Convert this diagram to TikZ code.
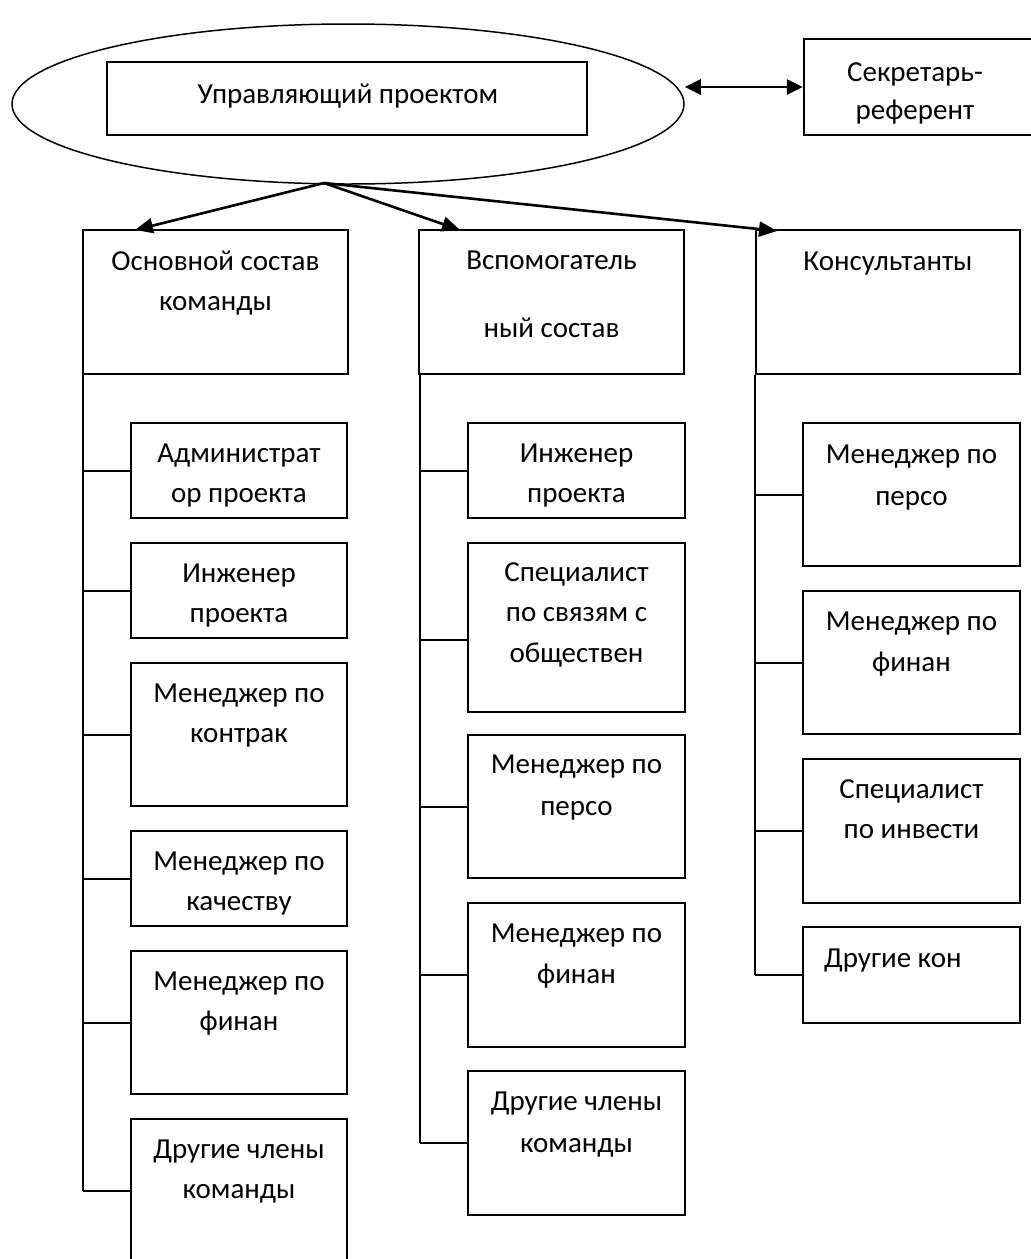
\documentclass[tikz,border=0pt]{standalone}
\usepackage{fontspec}
\setmainfont{Carlito}
\usetikzlibrary{arrows.meta,shapes.geometric}
\begin{document}
\begin{tikzpicture}[x=1pt,y=-1pt,
  boxs/.style={draw, line width=2.4pt, rectangle, inner sep=0pt},
  txt/.style={font=\fontsize{29}{34}\selectfont, inner sep=0pt, anchor=base},
  conn/.style={line width=2pt},
  arr/.style={line width=2.6pt, -{Triangle[length=18pt,width=15pt]}},
  darr/.style={line width=2.8pt, {Triangle[length=16pt,width=15pt]}-{Triangle[length=16pt,width=15pt]}}]
\useasboundingbox (0,0) rectangle (1031,1259);
\fill[white] (0,0) rectangle (1031,1259);

% top
\node[ellipse, draw, line width=1.5pt, minimum width=672pt, minimum height=160pt, inner sep=0pt] (mgr) at (348,104) {};
\node[boxs, minimum width=480pt, minimum height=73pt] (mgrbox) at (347,98.5) {};
\node[txt] (tmgr) at (348,103) {Управляющий проектом};
\node[boxs, minimum width=230pt, minimum height=96pt] (sec) at (919,87) {};
\node[txt] (tsec1) at (915,81) {Секретарь-};
\node[txt] (tsec2) at (915,119) {референт};
\draw[darr] (mgr.east |- sec.west) -- (sec.west);

% headers
\node[boxs, minimum width=265pt, minimum height=144pt] (h1) at (215.5,302) {};
\node[boxs, minimum width=265pt, minimum height=144pt] (h2) at (551.5,302) {};
\node[boxs, minimum width=264pt, minimum height=144pt] (h3) at (888,302) {};
\node[txt] (th1a) at (215.5,270) {Основной состав};
\node[txt] (th1b) at (215.5,310) {команды};
\node[txt] (th2a) at (551.5,269) {Вспомогатель};
\node[txt] (th2b) at (551.5,337) {ный состав};
\node[txt] (th3a) at (888,270) {Консультанты};

\coordinate (apex) at (324,183);
\coordinate (e1) at (135,230);
\coordinate (e2) at (460,230);
\coordinate (e3) at (777,231);
\draw[arr] (apex) -- (e1);
\draw[arr] (apex) -- (e2);
\draw[arr] (apex) -- (e3);

% column 1
\node[boxs, minimum width=216pt, minimum height=95pt]  (a1) at (239,470.5) {};
\node[boxs, minimum width=216pt, minimum height=95pt]  (a2) at (239,590.5) {};
\node[boxs, minimum width=216pt, minimum height=143pt] (a3) at (239,734.5) {};
\node[boxs, minimum width=216pt, minimum height=95pt]  (a4) at (239,878.5) {};
\node[boxs, minimum width=216pt, minimum height=143pt] (a5) at (239,1022.5) {};
\node[boxs, minimum width=216pt, minimum height=143pt] (a6) at (239,1190.5) {};
\node[txt] (ta1a) at (239,462) {Администрат};
\node[txt] (ta1b) at (239,502) {ор проекта};
\node[txt] (ta2a) at (239,582) {Инженер};
\node[txt] (ta2b) at (239,622) {проекта};
\node[txt] (ta3a) at (239,702) {Менеджер по};
\node[txt] (ta3b) at (239,742) {контрак};
\node[txt] (ta4a) at (239,870) {Менеджер по};
\node[txt] (ta4b) at (239,910) {качеству};
\node[txt] (ta5a) at (239,990) {Менеджер по};
\node[txt] (ta5b) at (239,1030) {финан};
\node[txt] (ta6a) at (239,1158) {Другие члены};
\node[txt] (ta6b) at (239,1198) {команды};
\draw[conn] ([xshift=1pt]h1.south west) -- ([xshift=1pt]h1.south west |- a6.west);
\foreach \b in {a1,a2,a3,a4,a5,a6}
  \draw[conn] ([xshift=1pt]h1.south west |- \b.west) -- (\b.west);

% column 2
\node[boxs, minimum width=217pt, minimum height=95pt]  (b1) at (576.5,470.5) {};
\node[boxs, minimum width=217pt, minimum height=169pt] (b2) at (576.5,627.5) {};
\node[boxs, minimum width=217pt, minimum height=143pt] (b3) at (576.5,806.5) {};
\node[boxs, minimum width=217pt, minimum height=144pt] (b4) at (576.5,975) {};
\node[boxs, minimum width=217pt, minimum height=144pt] (b5) at (576.5,1143) {};
\node[txt] (tb1a) at (576.5,462) {Инженер};
\node[txt] (tb1b) at (576.5,502) {проекта};
\node[txt] (tb2a) at (576.5,581) {Специалист};
\node[txt] (tb2b) at (576.5,621) {по связям с};
\node[txt] (tb2c) at (576.5,662) {обществен};
\node[txt] (tb3a) at (576.5,773) {Менеджер по};
\node[txt] (tb3b) at (576.5,815) {персо};
\node[txt] (tb4a) at (576.5,942) {Менеджер по};
\node[txt] (tb4b) at (576.5,983) {финан};
\node[txt] (tb5a) at (576.5,1110) {Другие члены};
\node[txt] (tb5b) at (576.5,1152) {команды};
\draw[conn] ([xshift=2pt]h2.south west) -- ([xshift=2pt]h2.south west |- b5.west);
\foreach \b in {b1,b3,b4,b5}
  \draw[conn] ([xshift=2pt]h2.south west |- \b.west) -- (\b.west);
\draw[conn] ([xshift=2pt,yshift=-12pt]h2.south west |- b2.west) -- ([yshift=-12pt]b2.west);

% column 3
\node[boxs, minimum width=217pt, minimum height=143pt] (c1) at (911.5,494.5) {};
\node[boxs, minimum width=217pt, minimum height=143pt] (c2) at (911.5,662.5) {};
\node[boxs, minimum width=217pt, minimum height=144pt] (c3) at (911.5,831) {};
\node[boxs, minimum width=217pt, minimum height=96pt]  (c4) at (911.5,975) {};
\node[txt] (tc1a) at (911.5,463) {Менеджер по};
\node[txt] (tc1b) at (911.5,505) {персо};
\node[txt] (tc2a) at (911.5,630) {Менеджер по};
\node[txt] (tc2b) at (911.5,671) {финан};
\node[txt] (tc3a) at (911.5,798) {Специалист};
\node[txt] (tc3b) at (911.5,838) {по инвести};
\node[txt, anchor=base west] (tc4a) at (824,967) {Другие кон};
\draw[conn] (h3.south west) -- (h3.south west |- c4.west);
\foreach \b in {c1,c2,c3,c4}
  \draw[conn] (h3.south west |- \b.west) -- (\b.west);
\end{tikzpicture}
\end{document}
